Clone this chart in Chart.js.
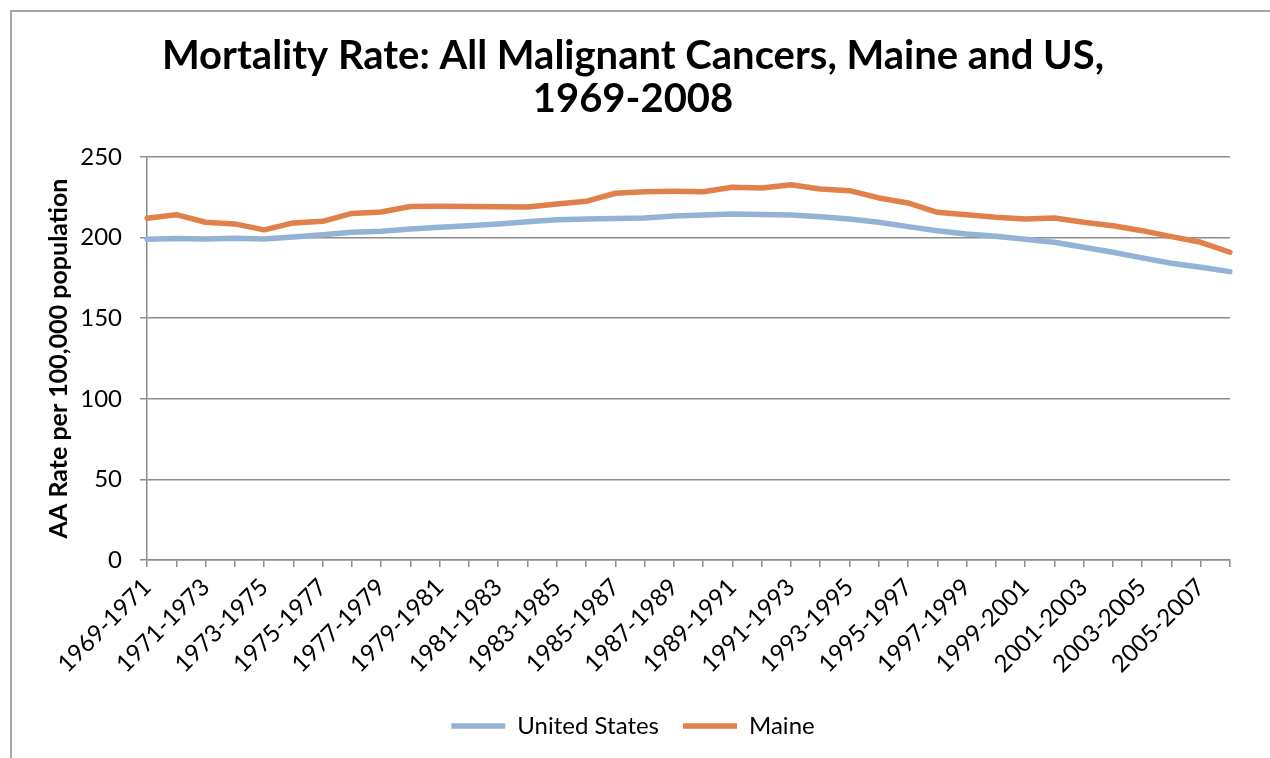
<!DOCTYPE html>
<html>
<head>
<meta charset="utf-8">
<script src="https://cdn.jsdelivr.net/npm/chart.js@4.4.0/dist/chart.umd.min.js"></script>
<style>
  html, body { margin: 0; padding: 0; background: #fff; }
  #wrap { position: relative; width: 1270px; height: 758px; overflow: hidden; }
  #frame { position: absolute; left: 10px; top: 10px; width: 1300px; height: 800px;
           border-left: 2px solid #a6a6a6; border-top: 2px solid #a6a6a6; }
  #c { position: absolute; left: 0; top: 0; }
</style>
</head>
<body>
<div id="wrap">
  <div id="frame"></div>
  <canvas id="c" width="1270" height="758"></canvas>
</div>
<script>
// 3-year rolling periods
var periods = ["1969-1971", "1970-1972", "1971-1973", "1972-1974", "1973-1975", "1974-1976",
  "1975-1977", "1976-1978", "1977-1979", "1978-1980", "1979-1981", "1980-1982", "1981-1983",
  "1982-1984", "1983-1985", "1984-1986", "1985-1987", "1986-1988", "1987-1989", "1988-1990",
  "1989-1991", "1990-1992", "1991-1993", "1992-1994", "1993-1995", "1994-1996", "1995-1997",
  "1996-1998", "1997-1999", "1998-2000", "1999-2001", "2000-2002", "2001-2003", "2002-2004",
  "2003-2005", "2004-2006", "2005-2007", "2006-2008"];

var unitedStates = [199.0, 199.4, 199.2, 199.6, 199.2, 200.4, 201.7, 203.3, 204.0, 205.3,
  206.4, 207.4, 208.5, 209.9, 211.0, 211.6, 211.8, 212.2, 213.4, 214.0,
  214.7, 214.4, 214.0, 213.0, 211.6, 209.5, 206.8, 204.3, 202.3, 200.8,
  199.0, 197.1, 194.0, 190.9, 187.4, 184.1, 181.6, 178.9];

var maine = [212.0, 214.2, 209.5, 208.5, 204.8, 209.1, 210.1, 215.0, 215.9, 219.3,
  219.5, 219.3, 219.2, 219.0, 220.9, 222.5, 227.5, 228.5, 228.7, 228.5,
  231.2, 230.8, 232.8, 230.2, 229.1, 224.6, 221.5, 215.7, 214.2, 212.6,
  211.6, 212.2, 209.5, 207.4, 204.3, 200.6, 197.1, 190.9];

var yTicks = [0, 50, 100, 150, 200, 250];

var FONT = 'Lato, "DejaVu Sans", sans-serif';
var AXIS_GRAY = '#8c8c8c';
var PLOT_BOTTOM = 560;

Chart.defaults.font.family = FONT;
Chart.defaults.color = '#000';

function lineSet(label, data, color) {
  return {
    label: label,
    data: data,
    borderColor: color,
    backgroundColor: color,
    borderWidth: 5.5,
    borderCapStyle: 'round',
    borderJoinStyle: 'round',
    pointRadius: 0,
    pointHoverRadius: 0,
    tension: 0,
    fill: false
  };
}

new Chart(document.getElementById('c'), {
  type: 'line',
  data: {
    labels: periods,
    datasets: [
      lineSet('United States', unitedStates, '#93b3d6'),
      lineSet('Maine', maine, '#e0804a')
    ]
  },
  options: {
    responsive: false,
    animation: false,
    layout: { padding: { top: 10, left: 36, right: 40, bottom: 10 } },
    plugins: {
      title: {
        display: true,
        text: ['Mortality Rate: All Malignant Cancers, Maine and US,', '1969-2008'],
        color: '#000',
        font: { size: 40, weight: 'bold', lineHeight: 1.075 },
        padding: { top: 25, bottom: 36 }
      },
      legend: {
        position: 'bottom',
        labels: {
          usePointStyle: true,
          pointStyle: 'line',
          pointStyleWidth: 54,
          padding: 24,
          color: '#000',
          font: { size: 24 }
        }
      },
      tooltip: { enabled: false }
    },
    scales: {
      x: {
        offset: false,
        grid: { drawOnChartArea: false, drawTicks: true, tickLength: 7, tickColor: AXIS_GRAY, lineWidth: 1.5 },
        border: { display: true, color: AXIS_GRAY, width: 1.5 },
        ticks: {
          autoSkip: false,
          minRotation: 45,
          maxRotation: 45,
          padding: 6,
          color: '#000',
          font: { size: 24 },
          callback: function (v, i) { return i % 2 === 0 ? this.getLabelForValue(v) : ''; }
        },
        afterFit: function (s) {
          var lg = s.chart.legend;
          s.height = 758 - 10 - PLOT_BOTTOM - (lg ? lg.height : 0);
        }
      },
      y: {
        min: 0,
        max: 250,
        afterBuildTicks: function (s) { s.ticks = yTicks.map(function (v) { return { value: v }; }); },
        grid: { color: AXIS_GRAY, lineWidth: 1.5, tickLength: 7, tickColor: AXIS_GRAY },
        border: { display: true, color: AXIS_GRAY, width: 1.5 },
        ticks: { padding: 18, color: '#000', font: { size: 24 } },
        title: {
          display: true,
          text: 'AA Rate per 100,000 population',
          color: '#000',
          font: { size: 25, weight: 'bold' },
          padding: { top: 8, bottom: 0 }
        },
        afterFit: function (s) { s.width = 147 - 36; }
      }
    }
  }
});
</script>
</body>
</html>
